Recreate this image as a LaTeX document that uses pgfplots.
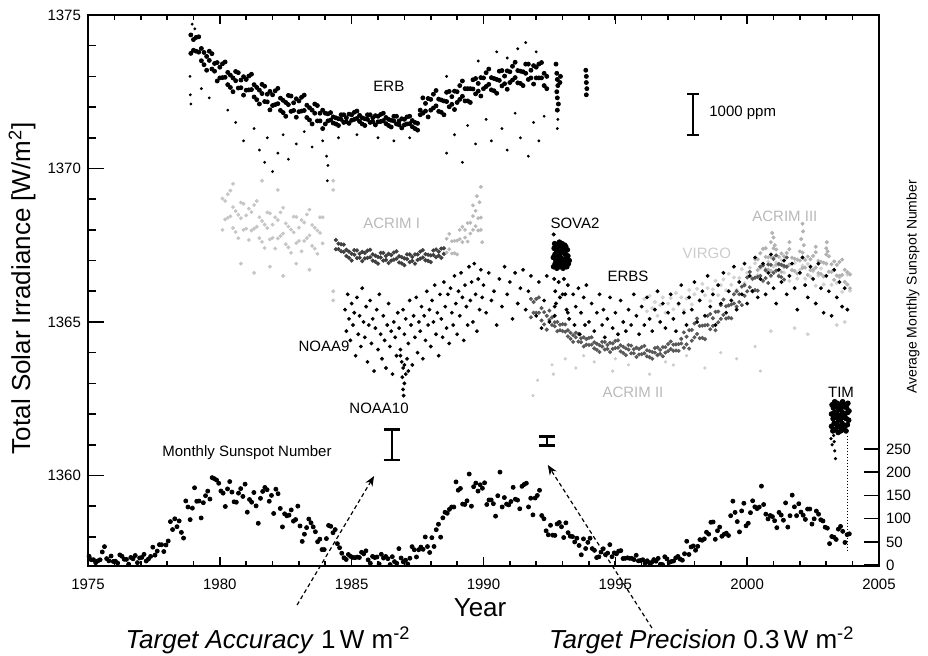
\documentclass[border=0pt]{standalone}
\usepackage{fontspec}
\setmainfont{Liberation Sans}
\usepackage{pgfplots}
\pgfplotsset{compat=1.18}
\usepackage{pgfplotstable}
\usetikzlibrary{arrows.meta}

\newcommand\lab{\fontsize{7.5}{9}\selectfont}
\newcommand\bigtxt{\fontsize{13}{15}\selectfont}

\pgfplotsset{
  tsibox/.style={at={(0,0)}, anchor=south west, scale only axis,
    width=395.5pt, height=275.5pt, xmin=1975, xmax=2005,
    axis line style={line width=0.8pt}, tick style={line width=0.8pt, black},
    tick align=inside,
    /pgf/number format/assume math mode=true,
    /pgf/number format/1000 sep={},
    ticklabel style={font=\lab}},
  dots/.style={only marks, mark=*, mark size=#1, mark options={draw=none}},
}

% monthly sunspot number, one row per year
\pgfplotstableread{
yr   m1    m2    m3    m4    m5    m6    m7    m8    m9    m10   m11   m12
1975 18.9  11.5  11.5  5.1   9.0   11.4  28.2  39.7  13.9  9.1   19.4  7.8
1976 8.1   4.3   21.9  18.8  12.4  12.2  1.9   16.4  13.5  20.6  5.2   15.3
1977 16.4  23.1  8.7   12.9  18.6  38.5  21.4  30.1  44.0  43.8  29.1  43.2
1978 51.9  93.6  76.5  99.7  82.7  95.1  70.4  58.1  138.2 125.1 97.9  122.7
1979 166.6 137.5 138.0 101.5 134.4 149.5 159.4 142.2 188.4 186.2 183.3 176.3
1980 159.6 155.0 126.2 164.1 179.9 157.3 136.3 135.4 155.0 164.7 147.9 174.4
1981 114.0 141.3 135.5 156.4 127.5 90.0  143.8 158.7 167.3 162.4 137.5 150.1
1982 111.2 163.6 153.8 122.0 82.2  110.4 106.1 107.6 118.8 94.7  98.1  127.0
1983 84.3  51.0  66.5  80.7  99.2  91.1  82.2  71.8  50.3  55.8  33.3  33.4
1984 57.0  85.4  83.5  69.7  76.4  46.1  37.4  25.5  15.7  12.0  22.8  18.7
1985 16.5  15.9  17.2  16.2  27.5  24.2  30.7  11.1  3.9   18.6  16.2  17.3
1986 2.5   23.2  15.1  18.5  13.7  1.1   18.1  7.4   3.8   35.4  15.2  6.8
1987 10.4  2.4   14.7  39.6  33.0  17.4  33.0  38.7  33.9  60.6  39.9  27.1
1988 59.0  40.0  76.2  88.0  60.1  101.8 113.8 111.6 120.1 125.1 125.1 179.2
1989 161.3 165.1 131.4 130.6 138.5 196.2 126.9 168.9 176.7 159.4 173.0 165.5
1990 177.3 130.5 140.3 140.3 132.2 105.4 149.4 200.3 125.2 145.5 131.4 129.7
1991 136.9 167.5 141.9 140.0 121.3 169.7 173.7 176.3 125.3 144.1 108.2 144.4
1992 150.0 161.1 106.7 99.8  73.8  65.2  85.7  64.5  63.9  88.7  91.8  82.6
1993 59.3  91.0  69.8  62.2  61.3  49.8  57.9  42.2  22.1  56.4  35.6  48.9
1994 57.8  35.5  31.7  16.1  17.8  28.0  35.1  22.5  25.7  44.0  18.0  26.2
1995 24.2  29.9  31.1  14.0  14.5  15.6  14.5  14.3  11.8  21.1  9.0   10.0
1996 11.5  4.4   9.2   4.8   5.5   11.8  8.2   14.4  1.6   0.9   17.9  13.3
1997 5.7   7.6   8.7   15.5  18.5  12.7  10.4  24.4  51.3  22.8  39.0  41.2
1998 31.9  40.3  54.8  53.4  56.3  70.7  66.6  92.2  92.9  55.5  74.0  81.9
1999 62.0  66.3  68.8  63.7  106.4 137.7 113.5 93.7  71.5  116.7 133.2 84.6
2000 90.1  112.9 138.5 125.5 121.6 124.9 170.1 130.5 109.7 99.4  106.8 104.4
2001 95.6  80.6  113.5 107.7 96.6  134.0 81.8  106.4 150.7 125.5 106.5 132.2
2002 114.1 107.4 98.4  120.7 120.8 88.3  99.6  116.4 109.6 97.5  95.0  81.6
2003 79.5  46.2  61.5  60.0  55.2  77.4  83.3  72.7  48.7  65.5  67.3  nan
}\sunspot

\begin{document}
\begin{tikzpicture}

% ---------------- irradiance ----------------
\begin{axis}[tsibox, ymin=1357.05, ymax=1375, clip=false,
  xtick=\empty, ytick={1360,1365,1370,1375},
  minor ytick={1358,1359,1361,1362,1363,1364,1366,1367,1368,1369,1371,1372,1373,1374},
  ytick pos=left, major tick length=8pt, minor tick length=4pt]

% VIRGO
\addplot[gray!35, dots=0.8pt] table[row sep=\\] {x y\\
1996.1 1365.75\\ 1996.2 1365.35\\ 1996.3 1365.85\\ 1996.4 1365.45\\ 1996.5 1365.65\\ 1996.6 1365.2\\ 1996.7 1365.55\\ 1996.8 1365.8\\ 1996.9 1365.3\\ 1997.0 1365.6\\
1997.1 1365.78\\ 1997.2 1365.41\\ 1997.3 1365.94\\ 1997.4 1365.57\\ 1997.5 1365.8\\ 1997.6 1365.38\\ 1997.7 1365.76\\ 1997.8 1366.04\\ 1997.9 1365.57\\ 1998.0 1365.9\\
1998.1 1366.08\\ 1998.2 1365.71\\ 1998.3 1366.24\\ 1998.4 1365.87\\ 1998.5 1366.1\\ 1998.6 1365.68\\ 1998.7 1366.06\\ 1998.8 1366.34\\ 1998.9 1365.87\\ 1999.0 1366.2\\
1999.1 1366.39\\ 1999.2 1366.03\\ 1999.3 1366.57\\ 1999.4 1366.21\\ 1999.5 1366.45\\ 1999.6 1366.04\\ 1999.7 1366.43\\ 1999.8 1366.72\\ 1999.9 1366.26\\ 2000.0 1366.6\\
2000.1 1366.77\\ 2000.2 1366.39\\ 2000.3 1366.91\\ 2000.4 1366.53\\ 2000.5 1366.75\\ 2000.6 1366.32\\ 2000.7 1366.69\\ 2000.8 1366.96\\ 2000.9 1366.48\\ 2001.0 1366.8\\
2001.1 1366.94\\ 2001.2 1366.53\\ 2001.3 1367.02\\ 2001.4 1366.61\\ 2001.5 1366.8\\ 2001.6 1366.34\\ 2001.7 1366.68\\ 2001.8 1366.92\\ 2001.9 1366.41\\ 2002.0 1366.7\\
2002.1 1366.83\\ 2002.2 1366.41\\ 2002.3 1366.89\\ 2002.4 1366.47\\ 2002.5 1366.65\\ 2002.6 1366.18\\ 2002.7 1366.51\\ 2002.8 1366.74\\ 2002.9 1366.22\\ 2003.0 1366.5\\
2003.1 1366.63\\ 2003.2 1366.21\\ 2003.3 1366.69\\ 2003.4 1366.27\\ 2003.5 1366.45\\ 2003.6 1365.98\\ 2003.7 1366.31\\ 2003.8 1366.54\\ 2003.9 1366.02\\
2001.8 1364.8\\ 2002.3 1364.6\\ 2003.4 1364.9\\ 2000.9 1364.7\\ 2003.7 1365.0\\
};

% ACRIM I, first years
\addplot[gray!45, dots=0.75pt] table[row sep=\\] {x y\\
1980.1 1369.02\\ 1980.2 1368.34\\ 1980.3 1369.16\\ 1980.4 1368.44\\ 1980.5 1368.74\\ 1980.6 1367.93\\ 1980.7 1368.49\\ 1980.8 1368.89\\ 1980.9 1368.0\\ 1981.0 1368.47\\
1981.1 1368.69\\ 1981.2 1367.98\\ 1981.3 1368.81\\ 1981.4 1368.1\\ 1981.5 1368.41\\ 1981.6 1367.61\\ 1981.7 1368.17\\ 1981.8 1368.57\\ 1981.9 1367.69\\ 1982.0 1368.17\\
1982.1 1368.41\\ 1982.2 1367.72\\ 1982.3 1368.57\\ 1982.4 1367.88\\ 1982.5 1368.21\\ 1982.6 1367.43\\ 1982.7 1368.01\\ 1982.8 1368.43\\ 1982.9 1367.57\\ 1983.0 1368.07\\
1983.1 1368.32\\ 1983.2 1367.64\\ 1983.3 1368.5\\ 1983.4 1367.82\\ 1983.5 1368.16\\ 1983.6 1367.39\\ 1983.7 1367.98\\ 1983.8 1368.41\\ 1983.9 1367.56\\
1980.1 1368.0\\ 1980.2 1368.94\\ 1980.3 1368.39\\ 1980.4 1369.28\\ 1980.5 1368.06\\ 1980.6 1368.61\\ 1980.7 1367.73\\ 1980.8 1368.38\\ 1980.9 1368.85\\ 1981.0 1368.04\\
1981.1 1367.67\\ 1981.2 1368.58\\ 1981.3 1368.04\\ 1981.4 1368.94\\ 1981.5 1367.73\\ 1981.6 1368.29\\ 1981.7 1367.41\\ 1981.8 1368.06\\ 1981.9 1368.54\\ 1982.0 1367.74\\
1982.1 1367.39\\ 1982.2 1368.32\\ 1982.3 1367.8\\ 1982.4 1368.72\\ 1982.5 1367.53\\ 1982.6 1368.11\\ 1982.7 1367.25\\ 1982.8 1367.92\\ 1982.9 1368.42\\ 1983.0 1367.64\\
1983.1 1367.3\\ 1983.2 1368.24\\ 1983.3 1367.73\\ 1983.4 1368.66\\ 1983.5 1367.48\\ 1983.6 1368.07\\ 1983.7 1367.22\\ 1983.8 1367.9\\ 1983.9 1368.41\\
1980.8 1366.9\\ 1981.3 1366.6\\ 1981.9 1366.8\\ 1982.4 1366.5\\ 1982.9 1366.9\\ 1983.4 1366.7\\ 1981.6 1369.6\\ 1980.5 1369.5\\ 1982.2 1369.3\\
1984.3 1369.6\\ 1984.3 1369.3\\ 1984.3 1366.0\\ 1984.3 1365.7\\
};

% ACRIM II drop-outs
\addplot[gray!40, dots=0.6pt] table[row sep=\\] {x y\\
1992.6 1363.6\\ 1992.65 1363.3\\ 1993.1 1363.8\\ 1993.5 1363.5\\ 1994.2 1363.7\\ 1994.9 1363.4\\ 1995.5 1363.6\\ 1996.3 1363.3\\ 1996.9 1363.7\\ 1997.7 1363.9\\
1998.4 1363.5\\ 1999.0 1364.0\\ 1999.6 1363.8\\ 2000.3 1364.2\\ 2000.5 1363.4\\ 1992.05 1363.1\\ 1991.88 1362.6\\ 1993.8 1363.9\\ 1995.0 1363.8\\ 1997.2 1363.6\\
};

% ACRIM III
\addplot[gray!60, dots=0.8pt] table[row sep=\\] {x y\\
2000.3 1367.05\\ 2000.4 1366.69\\ 2000.5 1367.24\\ 2000.6 1366.88\\ 2000.7 1367.12\\ 2000.8 1366.71\\ 2000.9 1367.11\\ 2001.0 1367.4\\ 2001.1 1366.86\\ 2001.2 1367.12\\
2001.3 1367.23\\ 2001.4 1366.79\\ 2001.5 1367.25\\ 2001.6 1366.87\\ 2001.7 1367.09\\ 2001.8 1366.66\\ 2001.9 1367.03\\ 2002.0 1367.3\\ 2002.1 1366.76\\ 2002.2 1367.02\\
2002.3 1367.13\\ 2002.4 1366.69\\ 2002.5 1367.15\\ 2002.6 1366.77\\ 2002.7 1366.99\\ 2002.8 1366.56\\ 2002.9 1366.93\\ 2003.0 1367.2\\ 2003.1 1366.64\\ 2003.2 1366.88\\
2003.3 1366.97\\ 2003.4 1366.51\\ 2003.5 1366.95\\ 2003.6 1366.53\\ 2003.7 1366.7\\ 2003.8 1366.22\\ 2003.9 1366.55\\
2000.3 1366.45\\ 2000.4 1367.04\\ 2000.5 1366.79\\ 2000.6 1367.38\\ 2000.7 1366.72\\ 2000.8 1367.11\\ 2000.9 1366.66\\ 2001.0 1367.1\\ 2001.1 1367.36\\ 2001.2 1366.87\\
2001.3 1366.63\\ 2001.4 1367.14\\ 2001.5 1366.8\\ 2001.6 1367.37\\ 2001.7 1366.69\\ 2001.8 1367.06\\ 2001.9 1366.58\\ 2002.0 1367.0\\ 2002.1 1367.26\\ 2002.2 1366.77\\
2002.3 1366.53\\ 2002.4 1367.04\\ 2002.5 1366.7\\ 2002.6 1367.27\\ 2002.7 1366.59\\ 2002.8 1366.96\\ 2002.9 1366.48\\ 2003.0 1366.9\\ 2003.1 1367.14\\ 2003.2 1366.63\\
2003.3 1366.37\\ 2003.4 1366.86\\ 2003.5 1366.5\\ 2003.6 1367.03\\ 2003.7 1366.3\\ 2003.8 1366.62\\ 2003.9 1366.1\\
2000.9 1367.6\\ 2000.95 1367.9\\ 2001.0 1367.75\\ 2001.05 1367.5\\ 2002.05 1367.7\\ 2002.1 1368.2\\ 2002.12 1367.95\\ 2002.15 1367.5\\ 2003.0 1367.4\\ 2003.02 1367.6\\
2003.05 1367.3\\ 2000.7 1367.4\\ 2001.6 1367.6\\ 2002.6 1367.45\\
};

% ACRIM II
\addplot[black!65, dots=0.8pt] table[row sep=\\] {x y\\
1991.8 1365.75\\ 1991.9 1365.3\\ 1992.0 1365.75\\ 1992.1 1365.3\\ 1992.2 1365.45\\ 1992.3 1364.92\\ 1992.4 1365.2\\ 1992.5 1365.37\\
1991.8 1365.15\\ 1991.9 1365.65\\ 1992.0 1365.3\\ 1992.1 1365.8\\ 1992.2 1365.05\\ 1992.3 1365.32\\ 1992.4 1364.75\\ 1992.5 1365.07\\
1992.6 1364.9\\ 1992.7 1364.99\\ 1992.8 1365.0\\ 1992.9 1364.73\\ 1993.0 1364.93\\ 1993.1 1364.68\\ 1993.2 1364.73\\ 1993.3 1364.45\\ 1993.4 1364.57\\ 1993.5 1364.65\\
1993.6 1364.36\\ 1993.7 1364.47\\ 1993.8 1364.5\\ 1993.9 1364.26\\ 1994.0 1364.48\\ 1994.1 1364.26\\ 1994.2 1364.34\\ 1994.3 1364.09\\ 1994.4 1364.24\\ 1994.5 1364.35\\
1994.6 1364.1\\ 1994.7 1364.25\\ 1994.8 1364.32\\ 1994.9 1364.12\\ 1995.0 1364.38\\ 1995.1 1364.16\\ 1995.2 1364.24\\ 1995.3 1363.99\\ 1995.4 1364.14\\ 1995.5 1364.25\\
1995.6 1363.98\\ 1995.7 1364.11\\ 1995.8 1364.16\\ 1995.9 1363.94\\ 1996.0 1364.18\\ 1996.1 1363.98\\ 1996.2 1364.08\\ 1996.3 1363.85\\ 1996.4 1364.02\\ 1996.5 1364.15\\
1996.6 1363.92\\ 1996.7 1364.09\\ 1996.8 1364.18\\ 1996.9 1364.0\\ 1997.0 1364.28\\ 1997.1 1364.12\\ 1997.2 1364.26\\ 1997.3 1364.07\\ 1997.4 1364.28\\ 1997.5 1364.45\\
1992.6 1365.15\\ 1992.7 1364.86\\ 1992.8 1364.7\\ 1992.9 1364.91\\ 1993.0 1364.7\\ 1993.1 1364.92\\ 1993.2 1364.53\\ 1993.3 1364.65\\ 1993.4 1364.35\\ 1993.5 1364.5\\
1993.6 1364.61\\ 1993.7 1364.34\\ 1993.8 1364.2\\ 1993.9 1364.44\\ 1994.0 1364.25\\ 1994.1 1364.5\\ 1994.2 1364.14\\ 1994.3 1364.29\\ 1994.4 1364.02\\ 1994.5 1364.2\\
1994.6 1364.35\\ 1994.7 1364.12\\ 1994.8 1364.02\\ 1994.9 1364.3\\ 1995.0 1364.15\\ 1995.1 1364.4\\ 1995.2 1364.04\\ 1995.3 1364.19\\ 1995.4 1363.92\\ 1995.5 1364.1\\
1995.6 1364.23\\ 1995.7 1363.98\\ 1995.8 1363.86\\ 1995.9 1364.12\\ 1996.0 1363.95\\ 1996.1 1364.22\\ 1996.2 1363.88\\ 1996.3 1364.05\\ 1996.4 1363.8\\ 1996.5 1364.0\\
1996.6 1364.17\\ 1996.7 1363.96\\ 1996.8 1363.88\\ 1996.9 1364.18\\ 1997.0 1364.05\\ 1997.1 1364.36\\ 1997.2 1364.06\\ 1997.3 1364.27\\ 1997.4 1364.06\\ 1997.5 1364.3\\
1997.6 1364.16\\ 1997.7 1364.52\\ 1997.8 1364.73\\ 1997.9 1364.39\\ 1998.0 1364.95\\ 1998.1 1364.61\\ 1998.2 1364.87\\ 1998.3 1364.48\\ 1998.4 1364.89\\ 1998.5 1365.2\\
1998.6 1364.76\\ 1998.7 1365.12\\ 1998.8 1365.33\\ 1998.9 1364.99\\ 1999.0 1365.55\\ 1999.1 1365.23\\ 1999.2 1365.51\\ 1999.3 1365.14\\ 1999.4 1365.57\\ 1999.5 1365.9\\
1999.6 1365.5\\ 1999.7 1365.9\\ 1999.8 1366.15\\ 1999.9 1365.85\\ 2000.0 1366.45\\ 2000.1 1366.13\\ 2000.2 1366.41\\ 2000.3 1366.04\\ 2000.4 1366.47\\ 2000.5 1366.8\\
2000.6 1366.34\\ 2000.7 1366.68\\ 2000.8 1366.87\\ 2000.9 1366.51\\ 2001.0 1367.05\\ 2001.1 1366.67\\ 2001.2 1366.89\\ 2001.3 1366.46\\ 2001.4 1366.83\\ 2001.5 1367.1\\
1997.6 1364.66\\ 1997.7 1364.27\\ 1997.8 1364.13\\ 1997.9 1364.74\\ 1998.0 1364.5\\ 1998.1 1365.11\\ 1998.2 1364.47\\ 1998.3 1364.88\\ 1998.4 1364.44\\ 1998.5 1364.9\\
1998.6 1365.26\\ 1998.7 1364.87\\ 1998.8 1364.73\\ 1998.9 1365.34\\ 1999.0 1365.1\\ 1999.1 1365.73\\ 1999.2 1365.11\\ 1999.3 1365.54\\ 1999.4 1365.12\\ 1999.5 1365.6\\
1999.6 1366.0\\ 1999.7 1365.65\\ 1999.8 1365.55\\ 1999.9 1366.2\\ 2000.0 1366.0\\ 2000.1 1366.63\\ 2000.2 1366.01\\ 2000.3 1366.44\\ 2000.4 1366.02\\ 2000.5 1366.5\\
2000.6 1366.84\\ 2000.7 1366.43\\ 2000.8 1366.27\\ 2000.9 1366.86\\ 2001.0 1366.6\\ 2001.1 1367.17\\ 2001.2 1366.49\\ 2001.3 1366.86\\ 2001.4 1366.38\\ 2001.5 1366.8\\
};

% ACRIM I, 1984-1989
\addplot[black!75, dots=0.85pt] table[row sep=\\] {x y\\
1984.4 1367.67\\ 1984.5 1367.37\\ 1984.6 1367.53\\ 1984.7 1367.28\\ 1984.8 1367.35\\ 1984.9 1367.09\\ 1985.0 1367.22\\ 1985.1 1367.34\\ 1985.2 1367.08\\ 1985.3 1367.22\\
1985.4 1367.28\\ 1985.5 1367.07\\ 1985.6 1367.32\\ 1985.7 1367.11\\ 1985.8 1367.2\\ 1985.9 1366.96\\ 1986.0 1367.12\\ 1986.1 1367.25\\ 1986.2 1367.0\\ 1986.3 1367.15\\
1986.4 1367.22\\ 1986.5 1367.0\\ 1986.6 1367.26\\ 1986.7 1367.06\\ 1986.8 1367.14\\ 1986.9 1366.91\\ 1987.0 1367.07\\ 1987.1 1367.2\\ 1987.2 1366.95\\ 1987.3 1367.12\\
1987.4 1367.2\\ 1987.5 1367.02\\ 1987.6 1367.29\\ 1987.7 1367.1\\ 1987.8 1367.21\\ 1987.9 1366.99\\ 1988.0 1367.17\\ 1988.1 1367.33\\ 1988.2 1367.11\\ 1988.3 1367.29\\
1988.4 1367.39\\ 1988.5 1367.22\\
1984.4 1367.37\\ 1984.5 1367.55\\ 1984.6 1367.3\\ 1984.7 1367.52\\ 1984.8 1367.15\\ 1984.9 1367.29\\ 1985.0 1367.0\\ 1985.1 1367.19\\ 1985.2 1367.33\\ 1985.3 1367.09\\
1985.4 1366.98\\ 1985.5 1367.25\\ 1985.6 1367.09\\ 1985.7 1367.35\\ 1985.8 1367.0\\ 1985.9 1367.16\\ 1986.0 1366.9\\ 1986.1 1367.1\\ 1986.2 1367.25\\ 1986.3 1367.02\\
1986.4 1366.92\\ 1986.5 1367.18\\ 1986.6 1367.03\\ 1986.7 1367.3\\ 1986.8 1366.94\\ 1986.9 1367.11\\ 1987.0 1366.85\\ 1987.1 1367.05\\ 1987.2 1367.2\\ 1987.3 1366.99\\
1987.4 1366.9\\ 1987.5 1367.2\\ 1987.6 1367.06\\ 1987.7 1367.34\\ 1987.8 1367.01\\ 1987.9 1367.19\\ 1988.0 1366.95\\ 1988.1 1367.18\\ 1988.2 1367.36\\ 1988.3 1367.16\\
1988.4 1367.09\\ 1988.5 1367.4\\
};
\addplot[gray!55, dots=0.75pt] table[row sep=\\] {x y\\
1988.6 1367.71\\ 1988.7 1367.37\\ 1988.8 1367.63\\ 1988.9 1367.24\\ 1989.0 1367.65\\ 1989.1 1368.0\\ 1989.2 1367.6\\ 1989.3 1368.0\\ 1989.4 1368.22\\ 1989.5 1367.88\\
1989.6 1368.45\\ 1989.7 1368.12\\ 1989.8 1368.38\\ 1989.9 1368.0\\
1988.6 1367.26\\ 1988.7 1367.87\\ 1988.8 1367.23\\ 1988.9 1367.64\\ 1989.0 1367.2\\ 1989.1 1367.7\\ 1989.2 1368.1\\ 1989.3 1367.75\\ 1989.4 1367.62\\ 1989.5 1368.23\\
1989.6 1368.0\\ 1989.7 1368.62\\ 1989.8 1367.98\\ 1989.9 1368.4\\
1989.85 1368.9\\ 1989.75 1369.1\\ 1989.9 1369.4\\ 1989.6 1368.8\\ 1989.95 1367.6\\
};

% NOAA9 / ERBS
\addplot[black, dots=0.75pt] table[row sep=\\] {x y\\
1984.75 1365.4\\ 1984.8 1364.7\\ 1984.85 1365.9\\ 1984.9 1365.1\\ 1984.95 1364.4\\ 1985.0 1365.6\\ 1985.05 1364.9\\ 1985.1 1365.3\\ 1985.15 1363.9\\ 1985.2 1365.8\\
1985.25 1364.6\\ 1985.3 1365.2\\ 1985.35 1364.2\\ 1985.4 1366.1\\ 1985.45 1365.0\\ 1985.5 1364.5\\ 1985.55 1365.5\\ 1985.6 1363.7\\ 1985.65 1364.9\\ 1985.7 1365.7\\
1985.75 1364.3\\ 1985.8 1365.1\\ 1985.85 1363.4\\ 1985.9 1364.8\\ 1985.95 1365.4\\ 1986.0 1364.1\\ 1986.05 1365.9\\ 1986.1 1364.6\\ 1986.15 1363.8\\ 1986.2 1365.2\\
1986.25 1364.4\\ 1986.3 1363.5\\ 1986.35 1364.9\\ 1986.4 1365.6\\ 1986.45 1364.2\\ 1986.5 1364.7\\ 1986.55 1363.3\\ 1986.6 1365.0\\ 1986.65 1364.5\\ 1986.7 1363.9\\
1986.75 1365.3\\ 1986.8 1364.8\\ 1986.85 1364.1\\ 1986.95 1365.4\\ 1987.0 1364.6\\ 1987.05 1365.1\\ 1987.15 1364.3\\ 1987.2 1365.7\\ 1987.25 1364.9\\ 1987.3 1363.6\\
1987.35 1365.2\\ 1987.4 1364.5\\ 1987.45 1365.8\\ 1987.5 1364.0\\ 1987.55 1365.0\\ 1987.6 1364.7\\ 1987.65 1365.5\\ 1987.7 1363.8\\ 1987.75 1365.2\\ 1987.8 1364.4\\
1987.85 1366.0\\ 1987.9 1364.9\\ 1987.95 1365.4\\ 1988.0 1364.2\\ 1988.05 1365.7\\ 1988.1 1365.0\\ 1988.15 1366.2\\ 1988.2 1364.6\\ 1988.25 1365.3\\ 1988.3 1363.9\\
1988.35 1365.9\\ 1988.4 1365.1\\ 1988.45 1364.5\\ 1988.5 1366.3\\ 1988.55 1365.5\\ 1988.6 1364.8\\ 1988.65 1365.9\\ 1988.7 1364.3\\ 1988.75 1366.1\\ 1988.8 1365.3\\
1988.85 1364.9\\ 1988.9 1366.5\\ 1988.95 1365.6\\ 1989.0 1364.6\\ 1989.05 1366.0\\ 1989.1 1365.2\\ 1989.15 1366.6\\ 1989.2 1365.8\\ 1989.25 1364.4\\ 1989.3 1366.2\\
1989.35 1365.5\\ 1989.4 1364.9\\ 1989.45 1366.8\\ 1989.5 1365.7\\ 1989.55 1366.3\\ 1989.6 1365.0\\ 1989.65 1366.9\\ 1989.7 1365.9\\ 1989.75 1364.7\\ 1989.8 1366.4\\
1989.85 1365.4\\ 1989.9 1366.7\\ 1989.95 1365.8\\ 1990.0 1366.2\\ 1990.1 1365.3\\ 1990.2 1366.6\\ 1990.3 1365.7\\ 1990.4 1366.0\\ 1990.5 1364.9\\ 1990.6 1366.4\\
1990.7 1365.5\\ 1990.8 1366.8\\ 1990.9 1365.9\\ 1991.0 1366.3\\ 1991.1 1365.1\\ 1991.2 1366.6\\ 1991.3 1365.6\\ 1991.4 1366.1\\ 1991.5 1366.7\\ 1991.6 1365.4\\
1991.7 1366.0\\ 1991.8 1366.5\\
1986.9 1363.7\\ 1986.95 1363.5\\ 1987.0 1363.6\\ 1987.05 1363.3\\ 1986.92 1363.2\\ 1987.0 1363.0\\ 1986.95 1362.8\\ 1986.97 1362.6\\ 1987.1 1363.8\\ 1987.15 1363.4\\
1986.85 1363.9\\
1992.0 1365.2\\ 1992.1 1366.3\\ 1992.2 1364.8\\ 1992.3 1365.7\\ 1992.4 1366.5\\ 1992.5 1365.0\\ 1992.7 1365.5\\ 1993.0 1365.9\\ 1993.2 1365.3\\
1993.4 1365.9\\ 1993.45 1364.9\\ 1993.5 1365.5\\ 1993.6 1366.1\\ 1993.65 1364.6\\ 1993.7 1365.3\\ 1993.8 1365.8\\ 1993.85 1364.9\\ 1993.9 1366.2\\ 1994.0 1365.0\\
1994.1 1365.6\\ 1994.2 1364.7\\ 1994.3 1365.3\\ 1994.4 1365.9\\ 1994.5 1364.9\\ 1994.55 1365.4\\ 1994.6 1364.5\\ 1994.7 1365.1\\ 1994.8 1365.8\\ 1994.9 1364.8\\
1995.0 1365.3\\ 1995.1 1364.6\\ 1995.2 1365.7\\ 1995.3 1365.0\\ 1995.4 1364.7\\ 1995.5 1365.4\\ 1995.6 1364.9\\ 1995.7 1365.9\\ 1995.8 1365.2\\ 1995.9 1364.6\\
1996.0 1365.5\\ 1996.1 1364.9\\ 1996.2 1365.8\\ 1996.3 1365.1\\ 1996.4 1364.7\\ 1996.5 1365.4\\ 1996.6 1366.0\\ 1996.7 1365.0\\ 1996.8 1365.6\\ 1996.9 1364.8\\
1997.0 1365.3\\ 1997.1 1365.9\\ 1997.2 1365.1\\ 1997.3 1364.7\\ 1997.4 1365.6\\ 1997.5 1366.2\\ 1997.6 1365.3\\ 1997.7 1364.9\\ 1997.8 1365.8\\ 1997.9 1365.4\\
1998.0 1366.3\\ 1998.1 1365.0\\ 1998.2 1365.7\\ 1998.3 1366.0\\ 1998.4 1365.2\\ 1998.5 1366.5\\ 1998.6 1365.5\\ 1998.7 1365.9\\ 1998.8 1364.9\\ 1998.9 1366.2\\
1999.0 1365.6\\ 1999.1 1366.6\\ 1999.2 1365.3\\ 1999.3 1366.0\\ 1999.4 1365.7\\ 1999.5 1366.8\\ 1999.6 1365.4\\ 1999.7 1366.3\\ 1999.8 1365.9\\ 1999.9 1366.9\\
2000.0 1365.6\\ 2000.1 1366.5\\ 2000.2 1366.0\\ 2000.3 1367.1\\ 2000.4 1365.8\\ 2000.5 1366.4\\ 2000.6 1366.9\\ 2000.7 1365.9\\ 2000.8 1366.6\\ 2000.9 1367.2\\
2001.0 1366.1\\ 2001.1 1365.6\\ 2001.2 1366.7\\ 2001.3 1366.3\\ 2001.4 1367.0\\ 2001.5 1365.9\\ 2001.6 1366.5\\ 2001.7 1366.9\\ 2001.8 1366.1\\ 2001.9 1365.4\\
2002.0 1366.6\\ 2002.1 1367.1\\ 2002.2 1366.2\\ 2002.3 1365.8\\ 2002.4 1366.8\\ 2002.5 1366.4\\ 2002.6 1365.6\\ 2002.7 1366.9\\ 2002.8 1366.1\\ 2002.9 1365.3\\
2003.0 1366.5\\ 2003.1 1366.0\\ 2003.2 1365.2\\ 2003.3 1366.7\\ 2003.4 1365.8\\ 2003.5 1366.3\\ 2003.6 1365.5\\ 2003.7 1366.1\\ 2003.8 1365.4\\
};

% SOVA2
\addplot[black, dots=1.2pt] table[row sep=\\] {x y\\
1992.65 1367.1\\ 1992.66 1366.8\\ 1992.68 1367.4\\ 1992.7 1367.55\\ 1992.72 1366.9\\ 1992.71 1367.2\\ 1992.75 1367.0\\ 1992.76 1367.35\\ 1992.78 1366.75\\
1992.8 1367.5\\ 1992.82 1367.15\\ 1992.81 1366.85\\ 1992.85 1367.3\\ 1992.86 1367.0\\ 1992.88 1367.6\\ 1992.9 1366.8\\ 1992.91 1367.45\\ 1992.92 1367.1\\
1992.95 1367.25\\ 1992.96 1366.9\\ 1992.98 1367.55\\ 1993.0 1367.05\\ 1993.01 1367.4\\ 1993.02 1366.75\\ 1993.05 1367.3\\ 1993.06 1367.0\\ 1993.08 1367.5\\
1993.1 1366.85\\ 1993.11 1367.2\\ 1993.12 1367.45\\ 1993.15 1367.05\\ 1993.16 1366.8\\ 1993.18 1367.35\\ 1993.2 1367.15\\ 1993.22 1366.9\\ 1993.25 1367.0\\
};
\addplot[black, dots=0.8pt] table[row sep=\\] {x y\\
1992.68 1366.4\\ 1992.72 1366.0\\ 1992.75 1365.6\\ 1992.7 1365.2\\ 1992.85 1366.3\\ 1992.9 1365.8\\ 1993.05 1366.4\\ 1993.1 1365.9\\ 1993.15 1365.4\\ 1993.2 1366.2\\
1993.25 1365.1\\ 1992.66 1367.85\\
};

% ERB
\addplot[black, dots=1.0pt] table[row sep=\\] {x y\\
1978.9 1374.35\\ 1979.0 1373.85\\ 1979.1 1374.27\\ 1979.2 1373.79\\ 1979.3 1373.91\\ 1979.4 1373.38\\ 1979.5 1373.65\\ 1979.6 1373.82\\ 1979.7 1373.24\\ 1979.8 1373.42\\
1979.9 1373.45\\ 1980.0 1372.95\\ 1980.1 1373.41\\ 1980.2 1372.97\\ 1980.3 1373.13\\ 1980.4 1372.64\\ 1980.5 1372.95\\ 1980.6 1373.16\\ 1980.7 1372.62\\ 1980.8 1372.88\\
1980.9 1372.99\\ 1981.0 1372.55\\ 1981.1 1373.01\\ 1981.2 1372.57\\ 1981.3 1372.73\\ 1981.4 1372.24\\ 1981.5 1372.55\\ 1981.6 1372.74\\ 1981.7 1372.18\\ 1981.8 1372.42\\
1981.9 1372.51\\ 1982.0 1372.05\\ 1982.1 1372.53\\ 1982.2 1372.11\\ 1982.3 1372.29\\ 1982.4 1371.82\\ 1982.5 1372.15\\ 1982.6 1372.38\\ 1982.7 1371.86\\ 1982.8 1372.14\\
1982.9 1372.27\\ 1983.0 1371.85\\ 1983.1 1372.32\\ 1983.2 1371.89\\ 1983.3 1372.06\\ 1983.4 1371.58\\ 1983.5 1371.9\\ 1983.6 1372.1\\ 1983.7 1371.55\\ 1983.8 1371.8\\
1983.9 1371.9\\ 1984.0 1371.45\\ 1984.1 1371.78\\ 1984.2 1371.58\\ 1984.3 1371.68\\ 1984.4 1371.45\\ 1984.5 1371.62\\ 1984.6 1371.75\\ 1984.7 1371.5\\ 1984.8 1371.65\\
1984.9 1371.77\\ 1985.0 1371.57\\ 1985.1 1371.83\\ 1985.2 1371.63\\ 1985.3 1371.73\\ 1985.4 1371.45\\ 1985.5 1371.62\\ 1985.6 1371.75\\ 1985.7 1371.5\\ 1985.8 1371.65\\
1985.9 1371.72\\ 1986.0 1371.52\\ 1986.1 1371.76\\ 1986.2 1371.56\\ 1986.3 1371.66\\ 1986.4 1371.4\\ 1986.5 1371.57\\ 1986.6 1371.7\\ 1986.7 1371.45\\ 1986.8 1371.55\\
1986.9 1371.62\\ 1987.0 1371.42\\ 1987.1 1371.68\\ 1987.2 1371.46\\ 1987.3 1371.56\\ 1987.4 1371.3\\ 1987.5 1371.47\\ 1987.6 1371.9\\
1987.7 1371.8\\ 1987.8 1372.12\\ 1987.9 1372.28\\ 1988.0 1371.9\\ 1988.1 1372.42\\ 1988.2 1372.04\\ 1988.3 1372.26\\ 1988.4 1371.83\\ 1988.5 1372.2\\ 1988.6 1372.48\\
1988.7 1372.01\\ 1988.8 1372.34\\ 1988.9 1372.52\\ 1989.0 1372.15\\ 1989.1 1372.7\\ 1989.2 1372.35\\ 1989.3 1372.6\\ 1989.4 1372.2\\ 1989.5 1372.6\\ 1989.6 1372.89\\
1989.7 1372.43\\ 1989.8 1372.77\\ 1989.9 1372.96\\ 1990.0 1372.6\\ 1990.1 1373.12\\ 1990.2 1372.74\\ 1990.3 1372.96\\ 1990.4 1372.53\\ 1990.5 1372.9\\ 1990.6 1373.17\\
1990.7 1372.69\\ 1990.8 1373.01\\ 1990.9 1373.18\\ 1991.0 1372.8\\ 1991.1 1373.33\\ 1991.2 1372.96\\ 1991.3 1373.19\\ 1991.4 1372.77\\ 1991.5 1373.15\\ 1991.6 1373.4\\
1991.7 1372.9\\ 1991.8 1373.2\\ 1991.9 1373.35\\ 1992.0 1372.95\\ 1992.1 1373.4\\ 1992.2 1372.95\\ 1992.3 1373.1\\ 1992.4 1372.6\\
1978.9 1373.75\\ 1979.0 1374.2\\ 1979.1 1373.82\\ 1979.2 1374.29\\ 1979.3 1373.51\\ 1979.4 1373.78\\ 1979.5 1373.2\\ 1979.6 1373.52\\ 1979.7 1373.74\\ 1979.8 1373.17\\
1979.9 1372.85\\ 1980.0 1373.3\\ 1980.1 1372.96\\ 1980.2 1373.47\\ 1980.3 1372.73\\ 1980.4 1373.04\\ 1980.5 1372.5\\ 1980.6 1372.86\\ 1980.7 1373.12\\ 1980.8 1372.63\\
1980.9 1372.39\\ 1981.0 1372.9\\ 1981.1 1372.56\\ 1981.2 1373.07\\ 1981.3 1372.33\\ 1981.4 1372.64\\ 1981.5 1372.1\\ 1981.6 1372.44\\ 1981.7 1372.68\\ 1981.8 1372.17\\
1981.9 1371.91\\ 1982.0 1372.4\\ 1982.1 1372.08\\ 1982.2 1372.61\\ 1982.3 1371.89\\ 1982.4 1372.22\\ 1982.5 1371.7\\ 1982.6 1372.08\\ 1982.7 1372.36\\ 1982.8 1371.89\\
1982.9 1371.67\\ 1983.0 1372.2\\ 1983.1 1371.87\\ 1983.2 1372.39\\ 1983.3 1371.66\\ 1983.4 1371.98\\ 1983.5 1371.45\\ 1983.6 1371.8\\ 1983.7 1372.05\\ 1983.8 1371.55\\
1983.9 1371.3\\ 1984.0 1371.8\\ 1984.1 1371.55\\ 1984.2 1371.82\\ 1984.3 1371.48\\ 1984.4 1371.65\\ 1984.5 1371.4\\ 1984.6 1371.6\\ 1984.7 1371.75\\ 1984.8 1371.52\\
1984.9 1371.47\\ 1985.0 1371.75\\ 1985.1 1371.6\\ 1985.2 1371.87\\ 1985.3 1371.53\\ 1985.4 1371.65\\ 1985.5 1371.4\\ 1985.6 1371.6\\ 1985.7 1371.75\\ 1985.8 1371.52\\
1985.9 1371.42\\ 1986.0 1371.7\\ 1986.1 1371.53\\ 1986.2 1371.8\\ 1986.3 1371.46\\ 1986.4 1371.6\\ 1986.5 1371.35\\ 1986.6 1371.55\\ 1986.7 1371.7\\ 1986.8 1371.42\\
1986.9 1371.32\\ 1987.0 1371.6\\ 1987.1 1371.45\\ 1987.2 1371.7\\ 1987.3 1371.36\\ 1987.4 1371.5\\ 1987.5 1371.25\\ 1987.6 1371.75\\
1987.7 1372.3\\ 1987.8 1371.87\\ 1987.9 1371.68\\ 1988.0 1372.25\\ 1988.1 1371.97\\ 1988.2 1372.54\\ 1988.3 1371.86\\ 1988.4 1372.23\\ 1988.5 1371.75\\ 1988.6 1372.18\\
1988.7 1372.51\\ 1988.8 1372.09\\ 1988.9 1371.92\\ 1989.0 1372.5\\ 1989.1 1372.25\\ 1989.2 1372.85\\ 1989.3 1372.2\\ 1989.4 1372.6\\ 1989.5 1372.15\\ 1989.6 1372.59\\
1989.7 1372.93\\ 1989.8 1372.52\\ 1989.9 1372.36\\ 1990.0 1372.95\\ 1990.1 1372.67\\ 1990.2 1373.24\\ 1990.3 1372.56\\ 1990.4 1372.93\\ 1990.5 1372.45\\ 1990.6 1372.87\\
1990.7 1373.19\\ 1990.8 1372.76\\ 1990.9 1372.58\\ 1991.0 1373.15\\ 1991.1 1372.88\\ 1991.2 1373.46\\ 1991.3 1372.79\\ 1991.4 1373.17\\ 1991.5 1372.7\\ 1991.6 1373.1\\
1991.7 1373.4\\ 1991.8 1372.95\\ 1991.9 1372.75\\ 1992.0 1373.3\\ 1992.1 1372.95\\ 1992.2 1373.45\\ 1992.3 1372.7\\ 1992.4 1373.0\\
1992.75 1373.4\\ 1992.78 1373.1\\ 1992.8 1372.9\\ 1992.82 1372.7\\ 1992.78 1372.5\\ 1992.8 1372.3\\ 1992.84 1372.1\\ 1992.8 1371.9\\ 1992.9 1372.8\\ 1992.92 1373.0\\
1993.88 1373.2\\ 1993.9 1373.0\\ 1993.9 1372.8\\ 1993.92 1372.6\\ 1993.9 1372.4\\
};
\addplot[black, dots=0.5pt] table[row sep=\\] {x y\\
1978.95 1374.7\\ 1979.05 1374.55\\ 1978.87 1373.0\\ 1978.88 1372.4\\ 1978.9 1372.1\\
1979.3 1372.6\\ 1979.6 1372.3\\ 1980.3 1371.9\\ 1980.6 1371.5\\ 1980.9 1370.9\\ 1981.3 1371.3\\ 1981.5 1370.6\\ 1981.7 1370.2\\ 1981.8 1371.0\\ 1982.0 1369.9\\
1982.2 1370.5\\ 1982.4 1371.1\\ 1982.6 1370.3\\ 1982.9 1370.8\\ 1983.2 1371.2\\ 1983.5 1370.7\\ 1983.9 1370.9\\ 1984.05 1370.4\\ 1984.1 1370.1\\ 1984.08 1369.6\\
1984.5 1371.0\\ 1985.2 1371.1\\ 1986.0 1371.0\\ 1986.6 1370.9\\ 1987.2 1371.0\\ 1988.6 1370.5\\ 1988.9 1371.1\\ 1989.2 1370.2\\ 1989.4 1371.4\\ 1989.7 1370.8\\
1990.1 1371.6\\ 1990.3 1370.9\\ 1990.7 1371.3\\ 1990.9 1370.6\\ 1991.2 1371.8\\ 1991.4 1371.0\\ 1991.7 1370.4\\ 1991.9 1371.5\\ 1992.1 1370.9\\ 1992.3 1371.7\\
1989.8 1373.5\\ 1990.5 1373.8\\ 1991.3 1373.9\\ 1991.6 1374.1\\ 1990.9 1373.6\\ 1988.6 1373.0\\ 1992.0 1373.8\\ 1992.82 1371.6\\ 1992.8 1371.3\\
};

% TIM
\addplot[black, dots=1.2pt] table[row sep=\\] {x y\\
2003.2 1361.6\\ 2003.2 1362.0\\ 2003.22 1362.3\\ 2003.25 1361.45\\ 2003.26 1361.85\\ 2003.27 1362.2\\ 2003.3 1361.7\\ 2003.31 1362.05\\ 2003.32 1362.4\\
2003.35 1361.5\\ 2003.36 1361.9\\ 2003.37 1362.25\\ 2003.4 1361.65\\ 2003.41 1362.0\\ 2003.42 1362.35\\ 2003.45 1361.4\\ 2003.46 1361.8\\ 2003.47 1362.15\\
2003.5 1361.6\\ 2003.51 1361.95\\ 2003.52 1362.3\\ 2003.55 1361.45\\ 2003.56 1361.85\\ 2003.57 1362.2\\ 2003.6 1361.7\\ 2003.61 1362.05\\ 2003.62 1362.4\\
2003.65 1361.5\\ 2003.66 1361.9\\ 2003.67 1362.25\\ 2003.7 1361.6\\ 2003.71 1362.0\\ 2003.72 1362.3\\ 2003.75 1361.45\\ 2003.76 1361.85\\ 2003.77 1362.2\\
2003.8 1361.65\\ 2003.81 1362.05\\ 2003.82 1362.35\\ 2003.85 1361.8\\ 2003.86 1362.1\\
};
\addplot[black, dots=0.6pt] table[row sep=\\] {x y\\
2003.18 1361.2\\ 2003.22 1361.0\\ 2003.3 1361.1\\ 2003.32 1360.8\\ 2003.35 1360.55\\ 2003.28 1361.3\\
};
\addplot[black, densely dotted, line width=0.5pt] coordinates {(2003.82,1361.3) (2003.82,1357.5)};

% scale bars
\addplot[black, line width=0.8pt] coordinates {(1997.94,1371.09) (1997.94,1372.43)};
\addplot[black, line width=0.8pt] coordinates {(1997.72,1372.43) (1998.16,1372.43)};
\addplot[black, line width=0.8pt] coordinates {(1997.72,1371.09) (1998.16,1371.09)};
\addplot[black, line width=1.3pt] coordinates {(1986.53,1360.5) (1986.53,1361.5)};
\addplot[black, line width=1.3pt] coordinates {(1986.21,1361.5) (1986.85,1361.5)};
\addplot[black, line width=1.3pt] coordinates {(1986.21,1360.5) (1986.85,1360.5)};
\addplot[black, line width=1.3pt] coordinates {(1992.41,1360.98) (1992.41,1361.27)};
\addplot[black, line width=1.3pt] coordinates {(1992.09,1361.27) (1992.73,1361.27)};
\addplot[black, line width=1.3pt] coordinates {(1992.09,1360.98) (1992.73,1360.98)};

% labels
\node[font=\lab] at (axis cs:1986.41,1372.69) {ERB};
\node[font=\lab, anchor=west, inner sep=0pt] at (axis cs:1998.55,1371.81) {1000 ppm};
\node[font=\lab, gray!55] at (axis cs:1986.52,1368.22) {ACRIM I};
\node[font=\lab] at (axis cs:1993.47,1368.22) {SOVA2};
\node[font=\lab, gray!55] at (axis cs:2001.43,1368.45) {ACRIM III};
\node[font=\lab] at (axis cs:1995.48,1366.5) {ERBS};
\node[font=\lab, gray!40] at (axis cs:1998.47,1367.25) {VIRGO};
\node[font=\lab] at (axis cs:1983.95,1364.19) {NOAA9};
\node[font=\lab, gray!55] at (axis cs:1995.67,1362.72) {ACRIM II};
\node[font=\lab] at (axis cs:1986.04,1362.2) {NOAA10};
\node[font=\lab] at (axis cs:2003.56,1362.72) {TIM};
\node[font=\lab] at (axis cs:1981.03,1360.73) {Monthly Sunspot Number};
\node[font=\fontsize{7}{8}\selectfont, rotate=90] at (axis cs:2006.29,1366.14) {Average Monthly Sunspot Number};

\node[font=\bigtxt, rotate=90] at (axis cs:1972.5,1366.1) {Total Solar Irradiance [W/m\textsuperscript{2}]};
\node[font=\bigtxt] at (axis cs:1989.87,1355.68) {Year};
\node[font=\bigtxt] at (axis cs:1981.83,1354.62) {\textit{Target Accuracy} 1\,W m\textsuperscript{-2}};
\node[font=\bigtxt] at (axis cs:1998.28,1354.62) {\textit{Target Precision} 0.3\,W m\textsuperscript{-2}};

\draw[black, line width=0.6pt, dash pattern=on 2pt off 1.5pt, -{Stealth[length=5pt, width=4pt]}]
  (axis cs:1982.93,1355.78) -- (axis cs:1985.85,1359.98);
\draw[black, line width=0.6pt, dash pattern=on 2pt off 1.5pt, -{Stealth[length=5pt, width=4pt]}]
  (axis cs:1996.39,1355.03) -- (axis cs:1992.44,1360.34);
\end{axis}

% ---------------- sunspot number, right axis ----------------
\begin{axis}[tsibox, ymin=-2, ymax=1185.5, hide x axis,
  ytick={0,50,100,150,200,250}, ytick pos=right, yticklabel pos=right,
  major tick length=7.5pt]
\pgfplotsinvokeforeach{1,...,12}{
  \addplot[black, dots=1pt] table[x expr=\thisrow{yr}+(#1-0.5)/12, y=m#1] {\sunspot};
}
\end{axis}

% ---------------- year axis ----------------
\begin{axis}[tsibox, ymin=0, ymax=1, hide y axis,
  xtick={1975,1980,...,2005}, minor xtick={1976,...,2004},
  xtick pos=both, major tick length=4.5pt, minor tick length=2.5pt,
  xticklabel style={yshift=-3pt}]
\addplot[draw=none] coordinates {(1975,0.5) (2005,0.5)};
\end{axis}

\pgfresetboundingbox
\path[use as bounding box] (-44pt,-45pt) rectangle (420pt,283pt);
\end{tikzpicture}
\end{document}
